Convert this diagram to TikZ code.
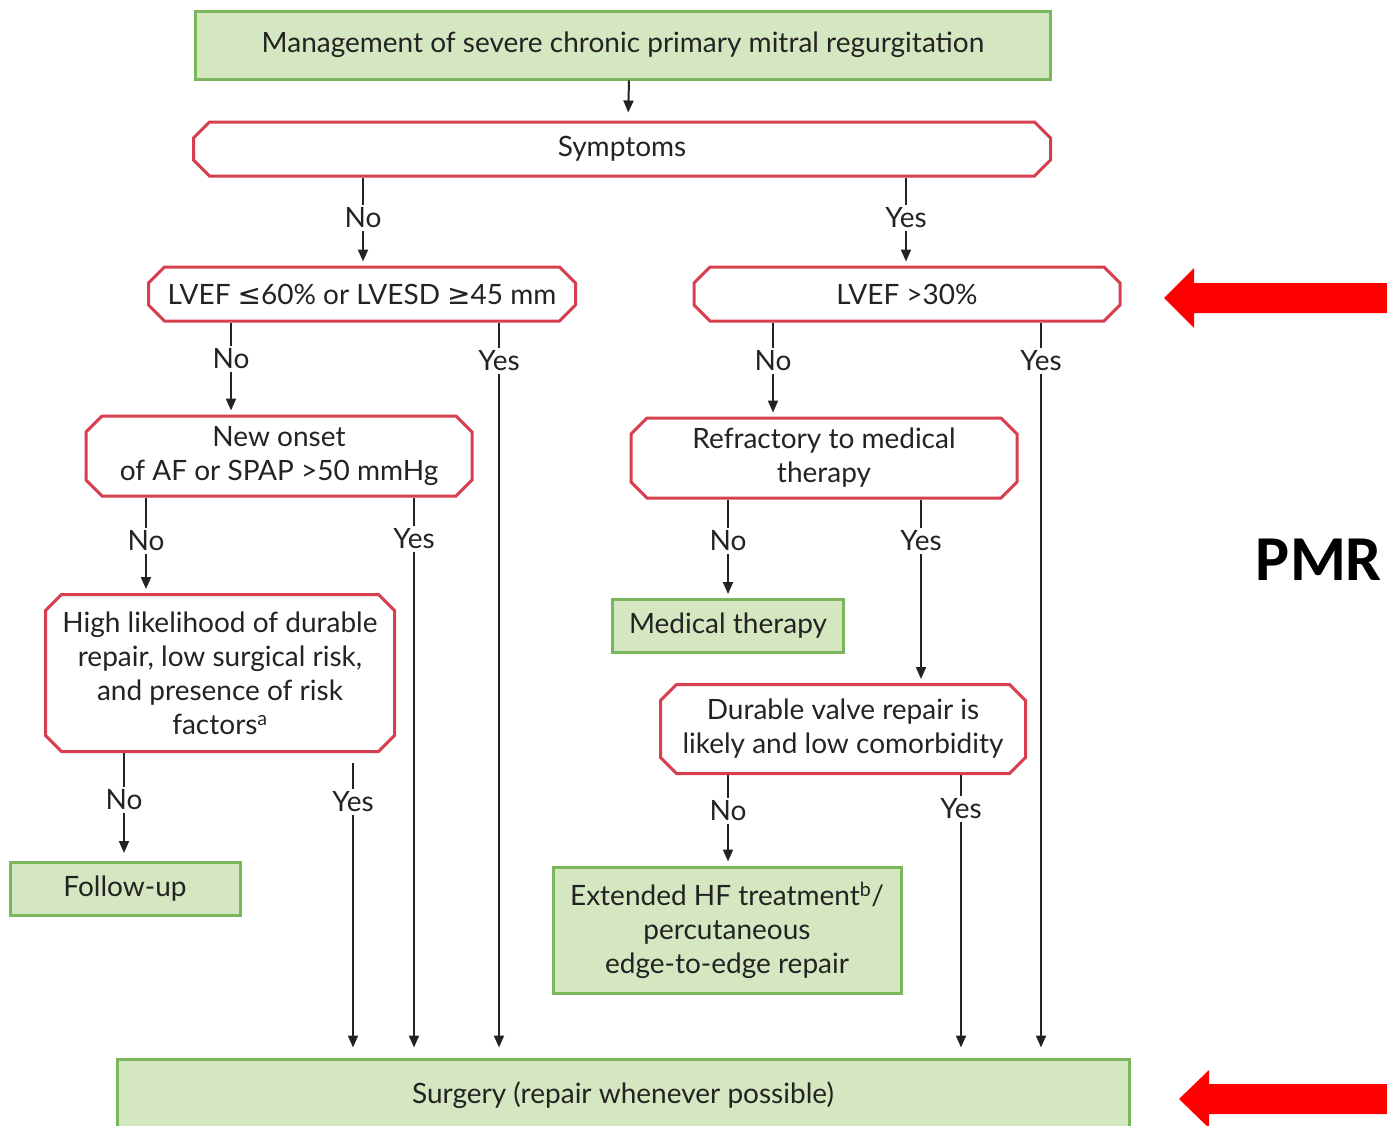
\documentclass[tikz,border=0pt]{standalone}
\usepackage{fontspec}
\setmainfont{Lato}
\newfontfamily\symf{DejaVu Sans}
\newfontfamily\pmrf{Carlito}
\usetikzlibrary{arrows.meta,shapes.misc}
\definecolor{qred}{RGB}{215,62,78}
\definecolor{qgreen}{RGB}{122,182,92}
\definecolor{qfill}{RGB}{213,231,192}
\definecolor{qtext}{RGB}{35,35,35}
\definecolor{qarrow}{RGB}{255,0,0}

\begin{document}
\begin{tikzpicture}[
  x=1pt, y=-1pt,
  every node/.style={font=\fontsize{28}{34}\selectfont, text=qtext},
  qbox/.style={chamfered rectangle, chamfered rectangle xsep=8.5pt, chamfered rectangle ysep=7.5pt, draw=qred, line width=3pt, fill=white, align=center, inner sep=0pt},
  gbox/.style={rectangle, draw=qgreen, line width=3pt, fill=qfill, align=center, inner sep=0pt},
  lbl/.style={inner sep=3pt},
  ln/.style={line width=2pt, draw=qtext},
  arr/.style={ln, -{Triangle[length=12pt,width=10pt]}, shorten >=4pt}
]
\useasboundingbox (0,0) rectangle (1387,1125);
\clip (0,0) rectangle (1387,1125);

% boxes
\node[gbox, minimum width=855, minimum height=68] (mgmt) at (623,45) {Management of severe chronic primary mitral regurgitation};
\node[qbox, minimum width=857, minimum height=54] (symp) at (622,149) {Symptoms};
\node[qbox, minimum width=427, minimum height=54] (lvefa) at (362,294) {LVEF {\symf ≤}60\% or LVESD {\symf ≥}45 mm};
\node[qbox, minimum width=426, minimum height=54] (lvefb) at (907,294) {LVEF >30\%};
\node[qbox, minimum width=386, minimum height=80] (onset) at (279,456) {New onset\\of AF or SPAP >50 mmHg};
\node[qbox, minimum width=386, minimum height=80] (refr) at (824,458) {Refractory to medical\\therapy};
\node[qbox, minimum width=349, minimum height=157] (likely) at (220,673) {High likelihood of durable\\repair, low surgical risk,\\and presence of risk\\factors\textsuperscript{a}};
\node[gbox, minimum width=231, minimum height=53] (medth) at (728,626) {Medical therapy};
\node[qbox, minimum width=365, minimum height=89] (durable) at (843,729) {Durable valve repair is\\likely and low comorbidity};
\node[gbox, minimum width=230, minimum height=53] (follow) at (125,889) {Follow-up};
\node[gbox, minimum width=348, minimum height=126] (exthf) at (727,930) {Extended HF treatment\textsuperscript{b}/\\percutaneous\\edge-to-edge repair};
\node[gbox, minimum width=1012, minimum height=72] (surg) at (623,1095) {Surgery (repair whenever possible)};

% branch labels
\node[lbl] (sympN) at (363,218) {No};
\node[lbl] (sympY) at (906,218) {Yes};
\node[lbl] (lvefaN) at (231,359) {No};
\node[lbl] (lvefaY) at (499,361) {Yes};
\node[lbl] (lvefbN) at (773,361) {No};
\node[lbl] (lvefbY) at (1041,361) {Yes};
\node[lbl] (onsetN) at (146,541) {No};
\node[lbl] (onsetY) at (414,539) {Yes};
\node[lbl] (refrN) at (728,541) {No};
\node[lbl] (refrY) at (921,541) {Yes};
\node[lbl] (likelyN) at (124,800) {No};
\node[lbl] (likelyY) at (353,802) {Yes};
\node[lbl] (durableN) at (728,811) {No};
\node[lbl] (durableY) at (961,809) {Yes};

% connectors
\draw[arr, shorten >=8pt] ([xshift=6pt]mgmt.south) -- ([xshift=6pt]symp.north);

\draw[ln] (symp.south -| sympN) -- (sympN);
\draw[arr] (sympN) -- (lvefa.north -| sympN);
\draw[ln] (symp.south -| sympY) -- (sympY);
\draw[arr] (sympY) -- (lvefb.north -| sympY);

\draw[ln] (lvefa.south -| lvefaN) -- (lvefaN);
\draw[arr] (lvefaN) -- (onset.north -| lvefaN);
\draw[ln] (lvefa.south -| lvefaY) -- (lvefaY);
\draw[arr, shorten >=10pt] (lvefaY) -- (surg.north -| lvefaY);

\draw[ln] (lvefb.south -| lvefbN) -- (lvefbN);
\draw[arr] (lvefbN) -- (refr.north -| lvefbN);
\draw[ln] (lvefb.south -| lvefbY) -- (lvefbY);
\draw[arr, shorten >=10pt] (lvefbY) -- (surg.north -| lvefbY);

\draw[ln] (onset.south -| onsetN) -- (onsetN);
\draw[arr] (onsetN) -- (likely.north -| onsetN);
\draw[ln] (onset.south -| onsetY) -- (onsetY);
\draw[arr, shorten >=10pt] (onsetY) -- (surg.north -| onsetY);

\draw[ln] (refr.south -| refrN) -- (refrN);
\draw[arr] (refrN) -- (medth.north -| refrN);
\draw[ln] (refr.south -| refrY) -- (refrY);
\draw[arr] (refrY) -- (durable.north -| refrY);

\draw[ln] (likely.south -| likelyN) -- (likelyN);
\draw[arr, shorten >=8pt] (likelyN) -- (follow.north -| likelyN);
\draw[ln, shorten <=10pt] (likely.south -| likelyY) -- (likelyY);
\draw[arr, shorten >=10pt] (likelyY) -- (surg.north -| likelyY);

\draw[ln] (durable.south -| durableN) -- (durableN);
\draw[arr] (durableN) -- (exthf.north -| durableN);
\draw[ln] (durable.south -| durableY) -- (durableY);
\draw[arr, shorten >=10pt] (durableY) -- (surg.north -| durableY);

% side marks
\node[font=\pmrf\bfseries\fontsize{64}{64}\selectfont, text=black] (pmr) at (1319,560) {PMR};
\fill[qarrow] (1387,283) -- (1194,283) -- (1194,268) -- (1164,298) -- (1194,328) -- (1194,313) -- (1387,313) -- cycle;
\fill[qarrow] (1387,1084) -- (1209,1084) -- (1209,1070) -- (1179,1099) -- (1209,1128) -- (1209,1114) -- (1387,1114) -- cycle;
\end{tikzpicture}
\end{document}
